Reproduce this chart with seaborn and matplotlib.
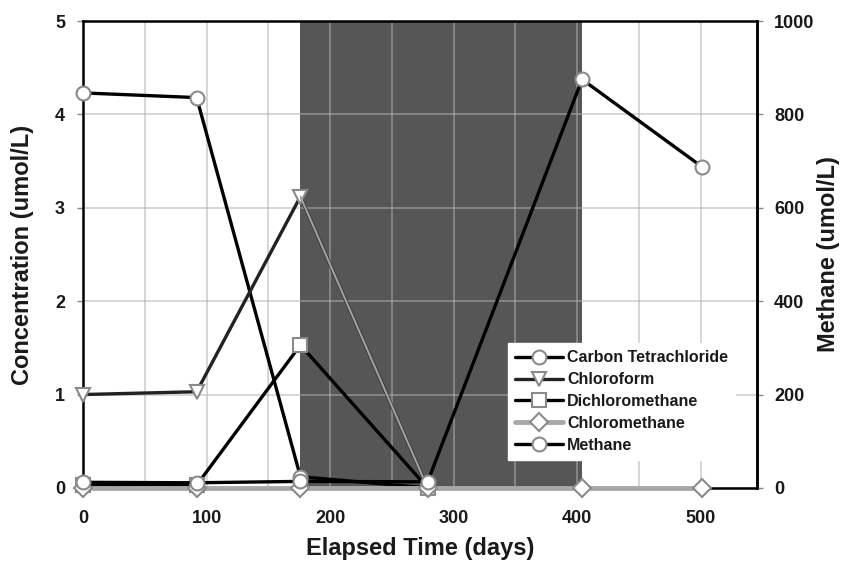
import numpy as np
import pandas as pd
import matplotlib
matplotlib.use("Agg")
import matplotlib.pyplot as plt
import seaborn as sns

# Sampling days and measured concentrations
days = [0, 92, 176, 279, 404, 501]
carbon_tet = [4.23, 4.18, 0.12, 0.0, np.nan, np.nan]
chloroform = [1.0, 1.03, 3.12, 0.0, np.nan, np.nan]
dichloromethane = [0.03, 0.03, 1.53, 0.0, np.nan, np.nan]
chloromethane = [0.0, 0.0, 0.0, 0.0, 0.0, 0.0]
methane = [12, 11, 14, 13, 875, 688]  # secondary axis

shade_start, shade_end = 176, 404
x_ticks = [0, 100, 200, 300, 400, 500]
conc_ticks = [0, 1, 2, 3, 4, 5]
methane_ticks = [0, 200, 400, 600, 800, 1000]

sns.set_style("white")
plt.rcParams["font.family"] = ["Liberation Sans", "DejaVu Sans"]
plt.rcParams["font.weight"] = "bold"
plt.rcParams["text.color"] = "#1a1a1a"
plt.rcParams["axes.labelcolor"] = "#1a1a1a"
plt.rcParams["xtick.labelcolor"] = "#1a1a1a"
plt.rcParams["ytick.labelcolor"] = "#1a1a1a"

fig = plt.figure(figsize=(8.43, 5.68), dpi=100)
ax = fig.add_axes([0.0985, 0.141, 0.8, 0.822])
ax2 = ax.twinx()

span = ax.axvspan(shade_start, shade_end, color="#565656", zorder=0.2, lw=0)

ax.set_axisbelow(True)
ax.set_xticks(np.arange(0, 551, 50), minor=True)
ax.grid(True, which="both", axis="x", color="#b0b0b0", alpha=0.65, lw=1.1)
ax.grid(True, which="major", axis="y", color="#b0b0b0", alpha=0.65, lw=1.1)

edge = "#8a8a8a"
common = dict(markerfacecolor="white", markeredgecolor=edge,
              markeredgewidth=1.5, clip_on=False)

sns.lineplot(x=days, y=carbon_tet, ax=ax, color="black", lw=2.4, marker="o",
             markersize=10, label="Carbon Tetrachloride", legend=False,
             zorder=3, **common)
sns.lineplot(x=days, y=chloroform, ax=ax, color="#222222", lw=2.4, marker="v",
             markersize=10, label="Chloroform", legend=False, zorder=3.1, **common)
# lighter trace of the chloroform segment inside the shaded interval
cf_df = pd.DataFrame({"d": days, "c": chloroform}).dropna()
light = ax.plot(cf_df["d"], cf_df["c"], color="#a0a0a0", lw=1.6, zorder=3.15)[0]
light.set_clip_path(span)
sns.lineplot(x=days, y=dichloromethane, ax=ax, color="black", lw=2.4, marker="s",
             markersize=10, label="Dichloromethane", legend=False, zorder=3.2,
             **common)
sns.lineplot(x=days, y=chloromethane, ax=ax, color="#a8a8a8", lw=3.5, marker="D",
             markersize=9, label="Chloromethane", legend=False, zorder=3.3,
             **common)
sns.lineplot(x=days, y=methane, ax=ax2, color="black", lw=2.4, marker="o",
             markersize=10, label="Methane", legend=False, zorder=3, **common)

ax.set_xlim(0, 546)
ax.set_ylim(0, 5)
ax2.set_ylim(0, 1000)
ax.set_xticks(x_ticks)
ax.set_yticks(conc_ticks)
ax2.set_yticks(methane_ticks)

for s in ax.spines.values():
    s.set_color("black")
    s.set_linewidth(1.8)
for name, s in ax2.spines.items():
    s.set_visible(name == "right")
    s.set_color("black")
    s.set_linewidth(1.8)
for a in (ax, ax2):
    a.tick_params(axis="both", which="major", labelsize=13, length=4,
                  color="#888888", width=1)
    a.tick_params(axis="both", which="minor", length=0)
ax.tick_params(axis="x", pad=12)
ax.tick_params(axis="y", pad=9)
ax2.tick_params(axis="y", pad=8)
for lbl in ax.get_xticklabels() + ax.get_yticklabels() + ax2.get_yticklabels():
    lbl.set_fontweight("bold")

ax.set_xlabel("Elapsed Time (days)", fontsize=17, fontweight="bold")
ax.set_ylabel("Concentration (umol/L)", fontsize=17, fontweight="bold")
ax2.set_ylabel("Methane (umol/L)", fontsize=17, fontweight="bold")
ax.xaxis.set_label_coords(0.5, -0.105)
ax.yaxis.set_label_coords(-0.073, 0.5)
ax2.yaxis.set_label_coords(1.089, 0.5)

h1, l1 = ax.get_legend_handles_labels()
h2, l2 = ax2.get_legend_handles_labels()
leg = ax2.legend(h1 + h2, l1 + l2, loc="lower left", bbox_to_anchor=(0.63, 0.06),
                 borderaxespad=0, frameon=True, fancybox=False, framealpha=1,
                 facecolor="white", edgecolor="white", handlelength=3,
                 labelspacing=0.43, prop={"size": 11.5, "weight": "bold"},
                 borderpad=0.45, handletextpad=0.25)
leg.set_zorder(10)

fig.savefig("out.png", dpi=100)
